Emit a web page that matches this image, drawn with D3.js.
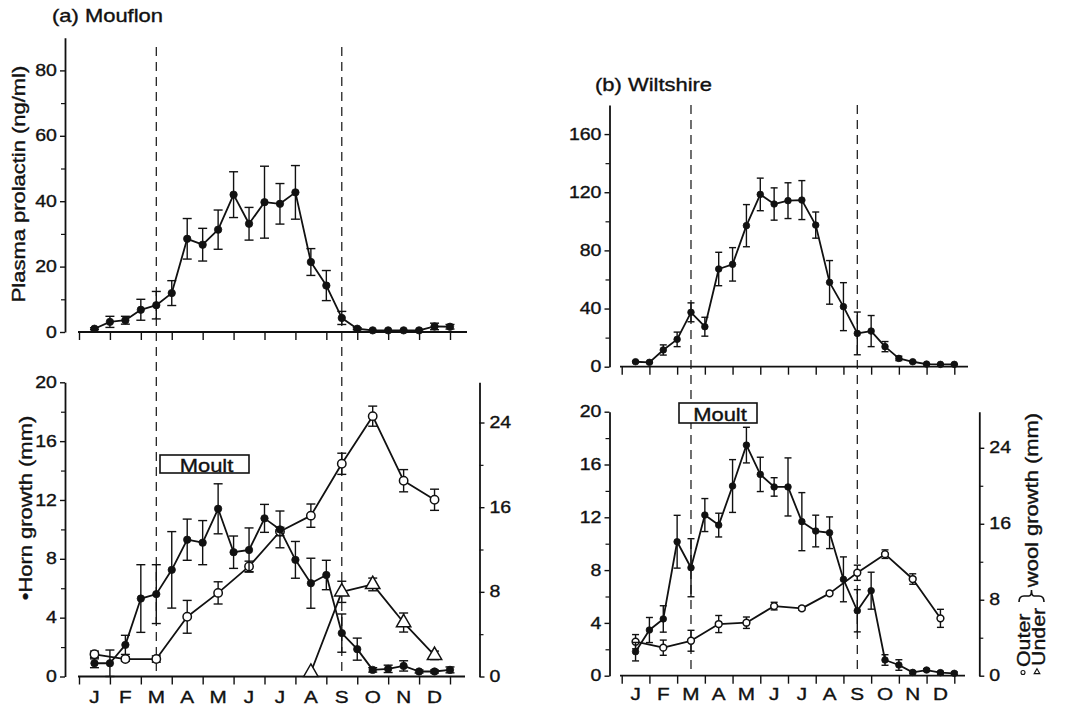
<!DOCTYPE html>
<html>
<head>
<meta charset="utf-8">
<script src="https://cdn.jsdelivr.net/npm/d3@7/dist/d3.min.js"></script>
<style>
  body { margin: 0; background: #fff; }
  svg { display: block; }
  text { font-family: "Liberation Sans", Arial, Helvetica, sans-serif; fill: #111; stroke: #111; stroke-width: 0.35px; }
</style>
</head>
<body>
<svg id="chart" width="1065" height="706"></svg>
<script>
/* ============================================
   Seasonal prolactin, horn and wool growth — Mouflon vs Wiltshire
   ============================================ */

const monthLabels = ['J', 'F', 'M', 'A', 'M', 'J', 'J', 'A', 'S', 'O', 'N', 'D'];

// sampling times, in months from 1 January
const fortnights = [0.5, 1, 1.5, 2, 2.5, 3, 3.5, 4, 4.5, 5, 5.5, 6,
                    6.5, 7, 7.5, 8, 8.5, 9, 9.5, 10, 10.5, 11, 11.5, 12];
const midMonths = [0.5, 1.5, 2.5, 3.5, 4.5, 5.5, 6.5, 7.5, 8.5, 9.5, 10.5, 11.5];
const underTimes = [7.5, 8.5, 9.5, 10.5, 11.5];
const moultMarks = [2.5, 8.5];   // dashed lines

// (a) Mouflon
const mouflonProlactin = [1.0, 3.1, 3.6, 6.8, 8.2, 11.9, 28.5, 26.7, 31.3, 42.0, 33.1, 39.7,
                          39.2, 42.7, 21.4, 14.2, 4.3, 1.0, 0.5, 0.5, 0.5, 0.5, 1.7, 1.6];
const mouflonProlactinSE = [0.3, 1.7, 1.2, 3.2, 4.2, 3.8, 6.2, 5.0, 6.0, 7.0, 5.0, 11.0,
                            6.2, 8.2, 4.1, 4.6, 2.0, 0.3, 0, 0, 0, 0, 1.0, 0.7];
const mouflonHorn = [0.9, 0.9, 2.15, 5.3, 5.6, 7.25, 9.3, 9.1, 11.4, 8.45, 8.6, 10.75,
                     10.0, 7.93, 6.34, 6.9, 2.95, 1.86, 0.45, 0.52, 0.72, 0.34, 0.34, 0.45];
const mouflonHornSE = [0.3, 0.9, 0.65, 2.3, 2.0, 2.6, 1.4, 1.5, 1.7, 1.1, 1.5, 0.95,
                       1.25, 1.25, 1.7, 1.0, 1.3, 0.75, 0.15, 0.25, 0.35, 0.1, 0.1, 0.2];
const mouflonOuter = [2.1, 1.65, 1.65, 5.64, 7.9, 10.4, 13.7, 15.2, 20.1, 24.6, 18.5, 16.7];
const mouflonOuterSE = [0.3, 0.2, 0.3, 1.55, 1.05, 0.5, 0.4, 1.1, 1.0, 0.95, 1.05, 1.0];
const mouflonUnder = [0.4, 8.0, 8.7, 5.1, 2.0];
const mouflonUnderSE = [0, 1.0, 0.6, 0.9, 0.4];

// (b) Wiltshire
const wiltProlactin = [3.4, 3.0, 11.5, 18.8, 37.4, 27.5, 67.2, 70.4, 97.0, 118.5, 111.9, 114.2,
                       114.6, 97.4, 58.0, 41.3, 22.9, 24.5, 13.8, 5.7, 3.4, 1.8, 1.6, 1.6];
const wiltProlactinSE = [0.5, 0.5, 3.5, 5.0, 6.5, 6.5, 11.5, 11.5, 14.5, 11.2, 11.1, 12.3,
                         13.4, 9.0, 15.0, 16.5, 14.7, 10.7, 3.5, 1.5, 0.5, 0.3, 0.3, 0.3];
const wiltHorn = [1.82, 3.46, 4.3, 10.15, 8.18, 12.17, 11.41, 14.37, 17.47, 15.25, 14.3, 14.3,
                  11.67, 10.96, 10.83, 7.3, 4.92, 6.44, 1.19, 0.81, 0.25, 0.43, 0.23, 0.18];
const wiltHornSE = [0.7, 0.95, 1.0, 2.0, 2.2, 1.25, 0.9, 2.0, 1.35, 1.3, 0.7, 2.2,
                    2.2, 1.2, 1.2, 1.7, 1.6, 1.4, 0.4, 0.4, 0.1, 0.1, 0.1, 0.1];
const wiltOuter = [3.58, 2.95, 3.68, 5.44, 5.58, 7.33, 7.09, 8.67, 10.84, 12.8, 10.18, 6.04];
const wiltOuterSE = [0.75, 0.8, 1.1, 0.9, 0.6, 0.4, 0.2, 0.2, 0.8, 0.45, 0.55, 0.95];

// axis ticks
const prolactinTicksA = [0, 20, 40, 60, 80];
const prolactinMinorA = [10, 30, 50, 70];
const prolactinTicksB = [0, 40, 80, 120, 160];
const prolactinMinorB = [20, 60, 100, 140];
const hornTicks = [0, 4, 8, 12, 16, 20];
const hornMinor = [2, 6, 10, 14, 18];
const woolTicks = [0, 8, 16, 24];
const woolMinor = [4, 12, 20];

const SX = 1.22;       // the lettering in the original is wide
const INK = '#111';

const svg = d3.select('#chart');

function stretchText(parent, str, x, y, size, anchor, rotated) {
  return parent.append('text')
    .attr('transform', `translate(${x},${y})${rotated ? ' rotate(-90)' : ''} scale(${SX},1)`)
    .attr('text-anchor', anchor || 'start')
    .style('font-size', size + 'px')
    .text(str);
}

function yAxis(g, scale, xPos, major, minor, side) {
  const mk = side === 'right' ? d3.axisRight : d3.axisLeft;
  const ax = g.append('g')
    .attr('transform', `translate(${xPos},0)`)
    .style('color', INK)
    .call(mk(scale).tickValues(major).tickSize(5).tickSizeOuter(0)
      .tickPadding(side === 'right' ? 3.2 : 1.6));
  ax.select('.domain').attr('stroke-width', 1.8);
  ax.selectAll('.tick line').attr('stroke-width', 1.4);
  ax.selectAll('text')
    .attr('font-family', null)
    .style('font-size', '16px')
    .attr('transform', `scale(${SX},1)`);
  g.append('g')
    .attr('transform', `translate(${xPos},0)`)
    .style('color', INK)
    .call(mk(scale).tickValues(minor).tickSize(4).tickFormat(''))
    .call(s => s.select('.domain').remove())
    .selectAll('.tick line').attr('stroke-width', 1.2);
}

function xAxis(g, scale, yPos, x0, x1, labelY) {
  g.append('line')
    .attr('x1', x0).attr('x2', x1)
    .attr('y1', yPos).attr('y2', yPos)
    .attr('stroke', INK).attr('stroke-width', 1.8);
  g.append('g')
    .attr('transform', `translate(0,${yPos})`)
    .style('color', INK)
    .call(d3.axisBottom(scale).tickValues(d3.range(0, 13)).tickSize(8).tickFormat(''))
    .call(s => s.select('.domain').remove())
    .selectAll('.tick line').attr('stroke-width', 1.4);
  if (labelY) {
    midMonths.forEach((t, i) => {
      stretchText(g, monthLabels[i], scale(t), labelY, 17, 'middle');
    });
  }
}

function series(g, x, y, ts, vals, errs, marker, r, cap) {
  const pts = ts.map((t, i) => ({ t, v: vals[i], e: errs[i] }));
  g.append('path')
    .datum(pts)
    .attr('fill', 'none')
    .attr('stroke', INK)
    .attr('stroke-width', 1.8)
    .attr('stroke-linejoin', 'round')
    .attr('d', d3.line().x(d => x(d.t)).y(d => y(d.v)));

  const bars = g.append('g').attr('stroke', INK).attr('stroke-width', 1.4);
  pts.filter(d => d.e > 0).forEach(d => {
    const cx = x(d.t);
    const hi = y(d.v + d.e), lo = y(Math.max(0, d.v - d.e));
    bars.append('line').attr('x1', cx).attr('x2', cx).attr('y1', hi).attr('y2', lo);
    bars.append('line').attr('x1', cx - cap / 2).attr('x2', cx + cap / 2).attr('y1', hi).attr('y2', hi);
    bars.append('line').attr('x1', cx - cap / 2).attr('x2', cx + cap / 2).attr('y1', lo).attr('y2', lo);
  });

  const mg = g.append('g');
  if (marker === 'tri') {
    mg.selectAll('path').data(pts).join('path')
      .attr('transform', d => `translate(${x(d.t)},${y(d.v)})`)
      .attr('d', d3.symbol(d3.symbolTriangle, r * r * 4.2)())
      .attr('fill', '#fff').attr('stroke', INK).attr('stroke-width', 1.5);
  } else {
    mg.selectAll('circle').data(pts).join('circle')
      .attr('cx', d => x(d.t)).attr('cy', d => y(d.v)).attr('r', r)
      .attr('fill', marker === 'dot' ? INK : '#fff')
      .attr('stroke', INK).attr('stroke-width', marker === 'dot' ? 0.8 : 1.5);
  }
}

function dashed(g, x, ts, yTop, yBottom) {
  ts.forEach(t => {
    g.append('line')
      .attr('x1', x(t)).attr('x2', x(t))
      .attr('y1', yTop).attr('y2', yBottom)
      .attr('stroke', INK).attr('stroke-width', 1.2)
      .attr('stroke-dasharray', '9,6');
  });
}

function moultBox(g, x0, y0, w, h, baseline) {
  g.append('rect')
    .attr('x', x0).attr('y', y0).attr('width', w).attr('height', h)
    .attr('fill', '#fff').attr('stroke', INK).attr('stroke-width', 1.6);
  stretchText(g, 'Moult', x0 + w / 2 + 2, baseline, 18, 'middle');
}

/* ---------- (a) Mouflon ---------- */
const gA = svg.append('g');
const xA = d3.scaleLinear().domain([0, 12]).range([79, 450]);
const yProlA = d3.scaleLinear().domain([0, 90]).range([332, 37.7]);
const yHornA = d3.scaleLinear().domain([0, 20]).range([676.5, 382.3]);
const yWoolA = d3.scaleLinear().domain([0, 27.8]).range([676.5, 382.3]);

dashed(gA, xA, moultMarks, 47, 676);

yAxis(gA, yProlA, 65, prolactinTicksA, prolactinMinorA, 'left');
xAxis(gA, xA, 332, 78, 467, null);
series(gA, xA, yProlA, fortnights, mouflonProlactin, mouflonProlactinSE, 'dot', 3.7, 9);

yAxis(gA, yHornA, 65, hornTicks, hornMinor, 'left');
yAxis(gA, yWoolA, 479.5, woolTicks, woolMinor, 'right');
xAxis(gA, xA, 676.5, 78, 465, 703);
series(gA, xA, yWoolA, underTimes, mouflonUnder, mouflonUnderSE, 'tri', 4.6, 9);
series(gA, xA, yWoolA, midMonths, mouflonOuter, mouflonOuterSE, 'ring', 4.2, 9);
series(gA, xA, yHornA, fortnights, mouflonHorn, mouflonHornSE, 'dot', 3.7, 9);
moultBox(gA, 160, 455, 89, 18, 471.5);

stretchText(gA, '(a) Mouflon', 52, 22, 18, 'start');
stretchText(gA, 'Plasma prolactin (ng/ml)', 25, 184, 18, 'middle', true);
stretchText(gA, '\u2022Horn growth (mm)', 31.5, 508, 18, 'middle', true);

/* ---------- (b) Wiltshire ---------- */
const gB = svg.append('g');
const xB = d3.scaleLinear().domain([0, 12]).range([621.7, 954.3]);
const yProlB = d3.scaleLinear().domain([0, 180]).range([366.7, 105]);
const yHornB = d3.scaleLinear().domain([0, 20]).range([675.7, 411.7]);
const yWoolB = d3.scaleLinear().domain([0, 27.8]).range([675.7, 411.7]);

dashed(gB, xB, moultMarks, 105, 676);

yAxis(gB, yProlB, 609.5, prolactinTicksB, prolactinMinorB, 'left');
xAxis(gB, xB, 366.7, 620, 968, null);
series(gB, xB, yProlB, fortnights, wiltProlactin, wiltProlactinSE, 'dot', 3.3, 7);

yAxis(gB, yHornB, 609.5, hornTicks, hornMinor, 'left');
yAxis(gB, yWoolB, 979.3, woolTicks, woolMinor, 'right');
xAxis(gB, xB, 675.7, 620, 965, 700);
series(gB, xB, yWoolB, midMonths, wiltOuter, wiltOuterSE, 'ring', 3.4, 7);
series(gB, xB, yHornB, fortnights, wiltHorn, wiltHornSE, 'dot', 3.3, 7);
moultBox(gB, 679, 403, 78, 20, 420.5);

stretchText(gB, '(b) Wiltshire', 595, 90.5, 18, 'start');

// right-hand axis title: outer / under } wool growth (mm)
stretchText(gB, 'wool growth (mm)', 1038, 500, 18, 'middle', true);
stretchText(gB, 'Outer', 1030, 667, 17.5, 'start', true);
stretchText(gB, 'Under', 1044.5, 666, 17.5, 'start', true);
gB.append('circle').attr('cx', 1023).attr('cy', 672.5).attr('r', 2)
  .attr('fill', '#fff').attr('stroke', INK).attr('stroke-width', 1.1);
gB.append('path')
  .attr('transform', 'translate(1037,672)')
  .attr('d', d3.symbol(d3.symbolTriangle, 14)())
  .attr('fill', '#fff').attr('stroke', INK).attr('stroke-width', 1.1);
gB.append('path')
  .attr('d', 'M1019,602 Q1019,596 1024,596 L1029,596 Q1031.5,596 1031.5,590 Q1031.5,596 1034,596 L1039,596 Q1044,596 1044,602')
  .attr('fill', 'none').attr('stroke', INK).attr('stroke-width', 1.6);
</script>
</body>
</html>
